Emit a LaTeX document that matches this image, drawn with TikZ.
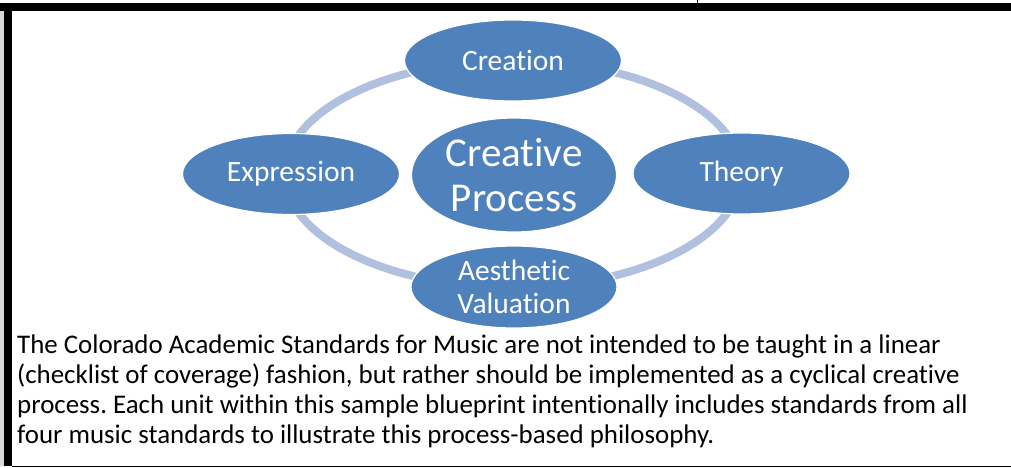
\documentclass[tikz,border=0pt]{standalone}
\usepackage{fontspec}
\setmainfont{Carlito}[Ligatures=NoCommon]
\usetikzlibrary{shapes.geometric,positioning,backgrounds}
\definecolor{stageblue}{RGB}{79,129,189}
\definecolor{ringblue}{RGB}{176,192,222}
\definecolor{edgegray}{RGB}{217,217,217}
\frenchspacing

\begin{document}
\begin{tikzpicture}[x=1pt, y=-1pt,
  stage/.style={ellipse, minimum width=217pt, minimum height=81pt, inner sep=0pt, align=center, draw=white, line width=1.2pt, fill=stageblue, text=white, font=\fontsize{29.5}{33}\selectfont},
  core/.style={stage, minimum width=205pt, minimum height=114pt, font=\fontsize{41}{45}\selectfont},
  ring/.style={draw=ringblue, line width=8pt}
]
\useasboundingbox (0,0) rectangle (1011,468);

% Page frame
\fill[black] (0,3) rectangle (1011,11);
\fill[edgegray] (0,11) rectangle (4,466);
\fill[black] (4,3) rectangle (12,466);
\fill[black] (696.5,0) rectangle (697.5,3);
\fill[black] (12,465.5) rectangle (1011,466.5);

% Cycle stages
\node[stage] (creation) at (513,60.5) {Creation};
\node[stage] (theory) at (741.5,173.5) {Theory};
\node[stage, minimum width=206pt, minimum height=82pt] (valuation) at (514,287) {Aesthetic\\Valuation};
\node[stage] (expression) at (291,174) {Expression};

% Centre
\node[core] (process) at (514,175) {Creative\\Process};

% Ring behind the stages
\begin{scope}[on background layer]
\draw[ring] (513,174) ellipse (228 and 113.5);
\end{scope}

% Caption
\node[anchor=base west, inner sep=0pt, align=left, font=\fontsize{26.9}{30}\selectfont] (caption) at (17,443) {The Colorado Academic Standards for Music are not intended to be taught in a linear\\(checklist of coverage) fashion, but rather should be implemented as a cyclical creative\\process. Each unit within this sample blueprint intentionally includes standards from all\\four music standards to illustrate this process-based philosophy.};

\end{tikzpicture}
\end{document}
